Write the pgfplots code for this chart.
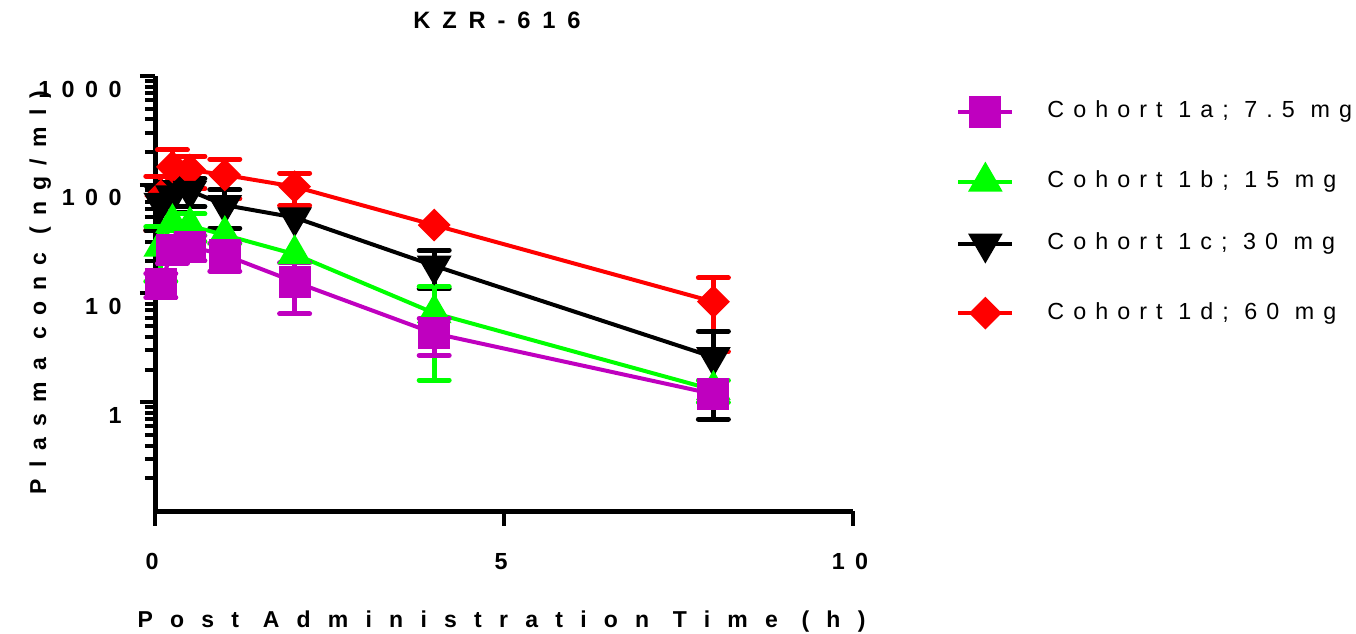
\documentclass[border=0pt]{standalone}
\usepackage{fontspec}
\setmainfont{Liberation Sans}
\newfontfamily\tickf{Liberation Sans}[LetterSpace=45]
\newfontfamily\labf{Liberation Sans}[LetterSpace=75]
\newfontfamily\ylabf{Liberation Sans}[LetterSpace=49]
\newfontfamily\titf{Liberation Sans}[LetterSpace=50]
\newfontfamily\legf{Liberation Sans}[LetterSpace=39]
\usepackage{pgfplots}
\pgfplotsset{compat=1.18}
\definecolor{cmag}{RGB}{191,0,191}
\definecolor{cgrn}{RGB}{0,255,0}
\definecolor{cred}{RGB}{255,0,0}
\pgfplotsset{
  cohort/.style={line width=2pt, mark options={solid, draw=none}},
  errs/.style={forget plot, only marks, mark=none,
    error bars/y dir=both, error bars/y explicit, error bars/error mark=-,
    error bars/error mark options={rotate=90, line width=2.5pt, mark size=7.5pt, line cap=round},
    error bars/error bar style={line width=2.5pt}},
}
\begin{document}
\begin{tikzpicture}
\useasboundingbox (0,0) rectangle (678pt,316.5pt);
\begin{axis}[
  at={(77.5pt,61pt)}, anchor=south west,
  scale only axis, width=349pt, height=217.5pt,
  xmin=0, xmax=10, ymin=0.1, ymax=1000, ymode=log,
  axis lines=left,
  every outer x axis line/.append style={-},
  every outer y axis line/.append style={-},
  axis line style={-, line width=2.5pt, black},
  tick align=outside,
  major tick length=7.5pt, minor tick length=5pt,
  every tick/.style={line width=2pt, black},
  xtick={0,5,10}, xticklabels={0,5,10},
  ytick={1,10,100,1000}, yticklabels={1,10,100,1000},
  minor ytick={0.2,0.3,0.4,0.5,0.6,0.7,0.8,0.9,2,3,4,5,6,7,8,9,20,30,40,50,60,70,80,90,200,300,400,500,600,700,800,900},
  minor xtick={},
  tick label style={font=\tickf\bfseries\fontsize{11.65pt}{14pt}\selectfont, inner sep=0pt},
  yticklabel style={anchor=east, yshift=-6.5pt, xshift=-9pt},
  xticklabel style={anchor=north, yshift=-13.5pt, xshift=-1.5pt},
  clip=false,
  legend image code/.code={\draw[mark repeat=2,mark phase=2,#1] plot coordinates {(0pt,0pt) (13.5pt,0pt) (27pt,0pt)};},
  reverse legend,
  legend style={at={(axis description cs:1.1475,0.687)}, anchor=west, draw=none, fill=none,
    inner sep=0pt, font=\legf\fontsize{11.65pt}{14pt}\selectfont,
    nodes={inner sep=0pt, text height=8.5pt, text depth=2.5pt},
    /tikz/column sep=16.5pt, /tikz/row sep=20pt},
  legend cell align=left,
]
% Cohort 1d; 60 mg
\addplot[errs, color=cred] coordinates {
 (0.083,79) +- (0,41)
 (0.25,146) +- (0,63)
 (0.5,137) +- (0,45)
 (1,123) +- (0,49)
 (2,96) +- (0,32)
 (8,8.4) +- (0,5.5)
};
\addplot[cohort, color=cred, mark=square*, mark size=4.8pt, mark options={rotate=45}] coordinates {
 (0.083,79) (0.25,146) (0.5,137) (1,123) (2,96) (4,42.6) (8,8.4)
};
\addlegendentry{Cohort 1d; 60 mg}
% Cohort 1c; 30 mg
\addplot[errs, color=black] coordinates {
 (0.083,68) +- (0,30)
 (0.25,80) +- (0,25)
 (0.5,88) +- (0,25)
 (1,65) +- (0,25)
 (4,18) +- (0,7)
 (8,2.6) +- (0,1.9)
};
\addplot[cohort, color=black, mark=triangle*, mark size=8pt, mark options={rotate=180}] coordinates {
 (0.083,68) (0.25,80) (0.5,88) (1,65) (2,50) (4,18) (8,2.6)
};
\addlegendentry{Cohort 1c; 30 mg}
% Cohort 1b; 15 mg
\addplot[errs, color=cgrn] coordinates {
 (0.083,27) +- (0,14)
 (0.5,42) +- (0,12)
 (4,6.6) +- (0,5)
 (8,1.3) +- (0,0.3)
};
\addplot[cohort, color=cgrn, mark=triangle*, mark size=8pt] coordinates {
 (0.083,27) (0.25,44.5) (0.5,42) (1,34.5) (2,23) (4,6.6) (8,1.3)
};
\addlegendentry{Cohort 1b; 15 mg}
% Cohort 1a; 7.5 mg
\addplot[errs, color=cmag] coordinates {
 (0.083,12.2) +- (0,3)
 (0.25,25) +- (0,6)
 (0.5,27) +- (0,7)
 (1,22.6) +- (0,6.5)
 (2,12.8) +- (0,6.3)
 (4,4.3) +- (0,1.6)
};
\addplot[cohort, color=cmag, mark=square*, mark size=7pt] coordinates {
 (0.083,12.2) (0.25,25) (0.5,27) (1,22.6) (2,12.8) (4,4.3) (8,1.19)
};
\addlegendentry{Cohort 1a; 7.5 mg}
\end{axis}
\node[anchor=base, inner sep=0pt, font=\titf\bfseries\fontsize{11.85pt}{14pt}\selectfont] at (248.5pt,302pt) {KZR-616};
\node[anchor=base, inner sep=0pt, font=\labf\bfseries\fontsize{11.5pt}{13pt}\selectfont] at (250.75pt,3pt) {Post Administration Time (h)};
\node[anchor=base, rotate=90, inner sep=0pt, font=\ylabf\bfseries\fontsize{11.5pt}{13pt}\selectfont] at (23pt,170.25pt) {Plasma conc (ng/ml)};
\end{tikzpicture}
\end{document}
